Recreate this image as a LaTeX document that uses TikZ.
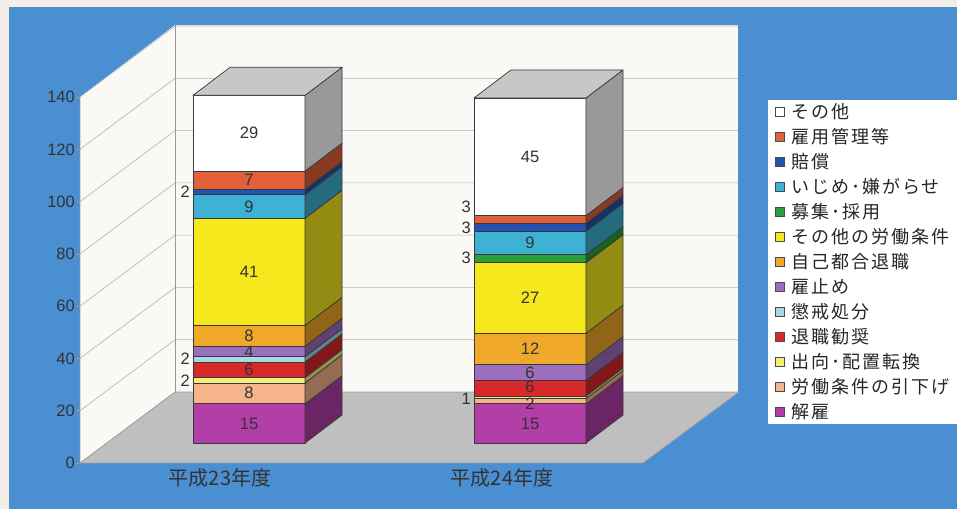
\documentclass[tikz,border=0pt]{standalone}
\usepackage{fontspec}
\setmainfont{Liberation Sans}
\newfontfamily\jpfont{Noto Sans CJK JP}
\newfontfamily\jplegend{Noto Sans CJK JP}[LetterSpace=11]
\definecolor{pagebg}{HTML}{F3EEE8}
\definecolor{bluebg}{HTML}{4A8FD2}
\definecolor{wallc}{HTML}{FBF9F6}
\definecolor{floorc}{HTML}{BFBFBF}
\definecolor{cOther}{HTML}{FFFFFF}
\definecolor{cKoyou}{HTML}{E2603A}
\definecolor{cBaisho}{HTML}{2452B0}
\definecolor{cIjime}{HTML}{3DB2D4}
\definecolor{cBoshu}{HTML}{2E9E3A}
\definecolor{cSonota}{HTML}{F7E81E}
\definecolor{cJiko}{HTML}{F0A828}
\definecolor{cYatoi}{HTML}{9E6EBE}
\definecolor{cChokai}{HTML}{A6D8E6}
\definecolor{cTaishoku}{HTML}{D8282A}
\definecolor{cShukko}{HTML}{F6EE7A}
\definecolor{cHikisage}{HTML}{F6B48A}
\definecolor{cKaiko}{HTML}{B23EA8}
\tikzset{
  segline/.style={draw=black!78, line width=0.7pt, line join=round},
  gridl/.style={draw=black!30, line width=0.6pt},
  edgel/.style={draw=black!40, line width=0.7pt},
  num/.style={font=\fontsize{16.5}{16.5}\selectfont, text=black!80, inner sep=0pt},
  axlab/.style={font=\fontsize{16.5}{16.5}\selectfont, text=black!80, inner sep=0pt, anchor=east},
  catlab/.style={font=\jpfont\fontsize{20}{20}\selectfont, text=black!80, inner sep=0pt},
  leglab/.style={font=\jplegend\fontsize{18}{18}\selectfont, text=black!85, inner sep=0pt, anchor=west},
  legmark/.style={draw=black!70, line width=0.6pt},
}
\newcommand\mkseg[4]{%
  \pgfmathsetmacro\ya{443-2.614*#2}%
  \pgfmathsetmacro\yb{443-2.614*#3}%
  \pgfmathsetmacro\xb{#1+112}%
  \pgfmathsetmacro\xc{#1+149}%
  \draw[segline, fill=#4] (#1,\ya) rectangle (\xb,\yb);
  \draw[segline, fill=#4!60!black] (\xb,\ya) -- (\xc,{\ya-28}) -- (\xc,{\yb-28}) -- (\xb,\yb) -- cycle;
}
\newcommand\mktop[2]{%
  \pgfmathsetmacro\yt{443-2.614*#2}%
  \draw[segline, fill=black!22] (#1,\yt) -- ({#1+37},{\yt-28}) -- ({#1+149},{\yt-28}) -- ({#1+112},\yt) -- cycle;
}
\begin{document}
\begin{tikzpicture}[x=1pt,y=-1pt]
\useasboundingbox (0,0) rectangle (957,509);
\clip (0,0) rectangle (957,509);
\fill[pagebg] (0,0) rectangle (957,509);
\fill[bluebg] (9,7) rectangle (957,509);
% walls and floor
\fill[wallc] (80,463) -- (80,97) -- (175,25) -- (175,392) -- cycle;
\fill[wallc] (175,25) rectangle (738,392);
\fill[floorc] (80,463) -- (175,392) -- (739,392) -- (643,463) -- cycle;
\foreach \v in {20,40,...,140} {
  \draw[gridl] (80,{463-2.614*\v}) -- (175,{392-2.614*\v}) -- (738,{392-2.614*\v});
}
\draw[edgel] (175,25) -- (175,392);
\draw[edgel] (80,97) -- (80,463) -- (175,392) -- (739,392);
\draw[edgel] (80,463) -- (643,463) -- (739,392);
\foreach \v in {0,20,...,140} {
  \draw[edgel] (76,{463-2.614*\v}) -- (80,{463-2.614*\v});
  \node[axlab] (tick\v) at (75,{463-2.614*\v}) {\v};
}
% left bar
\mkseg{193}{0}{15}{cKaiko}
\mkseg{193}{15}{23}{cHikisage}
\mkseg{193}{23}{25}{cShukko}
\mkseg{193}{25}{31}{cTaishoku}
\mkseg{193}{31}{33}{cChokai}
\mkseg{193}{33}{37}{cYatoi}
\mkseg{193}{37}{45}{cJiko}
\mkseg{193}{45}{86}{cSonota}
\mkseg{193}{86}{95}{cIjime}
\mkseg{193}{95}{97}{cBaisho}
\mkseg{193}{97}{104}{cKoyou}
\mkseg{193}{104}{133}{cOther}
\mktop{193}{133}
% right bar
\mkseg{474}{0}{15}{cKaiko}
\mkseg{474}{15}{17}{cHikisage}
\mkseg{474}{17}{18}{cShukko}
\mkseg{474}{18}{24}{cTaishoku}
\mkseg{474}{24}{30}{cYatoi}
\mkseg{474}{30}{42}{cJiko}
\mkseg{474}{42}{69}{cSonota}
\mkseg{474}{69}{72}{cBoshu}
\mkseg{474}{72}{81}{cIjime}
\mkseg{474}{81}{84}{cBaisho}
\mkseg{474}{84}{87}{cKoyou}
\mkseg{474}{87}{132}{cOther}
\mktop{474}{132}
% left bar labels
\node[num] (a1) at (249,423.4) {15};
\node[num] (a2) at (249,393.3) {8};
\node[num, anchor=east] (a3) at (190,381) {2};
\node[num] (a4) at (249,369.8) {6};
\node[num, anchor=east] (a5) at (190,358.5) {2};
\node[num] (a6) at (249,352) {4};
\node[num] (a7) at (249,335.8) {8};
\node[num] (a8) at (249,271.8) {41};
\node[num] (a9) at (249,206.4) {9};
\node[num, anchor=east] (a10) at (190,192) {2};
\node[num] (a11) at (249,180.3) {7};
\node[num] (a12) at (249,133.2) {29};
% right bar labels
\node[num] (b1) at (530,423.4) {15};
\node[num] (b2) at (530,404) {2};
\node[num, anchor=east] (b3) at (471,399) {1};
\node[num] (b4) at (530,387) {6};
\node[num] (b5) at (530,372.4) {6};
\node[num] (b6) at (530,348.9) {12};
\node[num] (b7) at (530,297.9) {27};
\node[num, anchor=east] (b8) at (471,258) {3};
\node[num] (b9) at (530,243) {9};
\node[num, anchor=east] (b10) at (471,228) {3};
\node[num, anchor=east] (b11) at (471,207) {3};
\node[num] (b12) at (530,156.8) {45};
% categories
\node[catlab] (cat1) at (220,478) {平成23年度};
\node[catlab] (cat2) at (502,478) {平成24年度};
% legend
\fill[white] (768,100) rectangle (960,424);
\foreach \i/\c/\t in {0/cOther/その他, 1/cKoyou/雇用管理等, 2/cBaisho/賠償, 3/cIjime/いじめ･嫌がらせ, 4/cBoshu/募集･採用, 5/cSonota/その他の労働条件, 6/cJiko/自己都合退職, 7/cYatoi/雇止め, 8/cChokai/懲戒処分, 9/cTaishoku/退職勧奨, 10/cShukko/出向･配置転換, 11/cHikisage/労働条件の引下げ, 12/cKaiko/解雇} {
  \draw[legmark, fill=\c] (775,{107.5+25*\i}) rectangle (784,{116.5+25*\i});
  \node[leglab] (leg\i) at (791,{112+25*\i}) {\t};
}
\end{tikzpicture}
\end{document}
